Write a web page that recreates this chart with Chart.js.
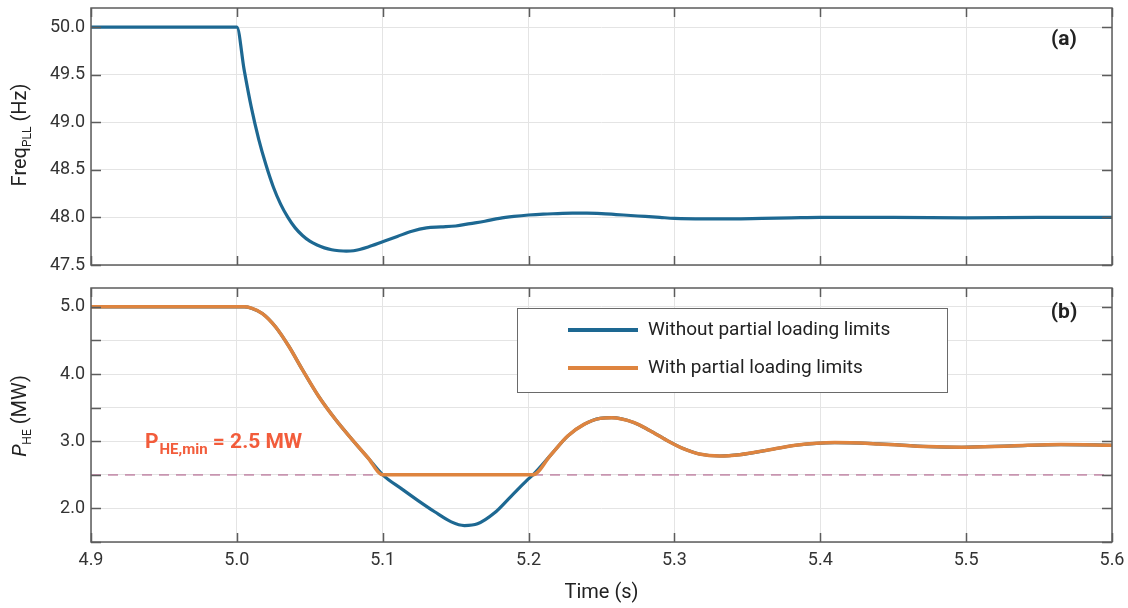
<!DOCTYPE html>
<html>
<head>
<meta charset="utf-8">
<script src="https://cdn.jsdelivr.net/npm/chart.js@4.4.0/dist/chart.umd.min.js"></script>
<style>
  html, body { margin: 0; padding: 0; background: #fff; }
  #wrap { position: relative; width: 1128px; height: 608px; }
  canvas { position: absolute; left: 0; }
  #freqChart { top: 0; }
  #powerChart { top: 275px; }
</style>
</head>
<body>
<div id="wrap">
  <canvas id="freqChart" width="1128" height="275"></canvas>
  <canvas id="powerChart" width="1128" height="333"></canvas>
</div>
<script>
// ─── Data ───────────────────────────────────────
const timeTicks = [4.9, 5.0, 5.1, 5.2, 5.3, 5.4, 5.5, 5.6];
const timeTickLabels = ["4.9", "5.0", "5.1", "5.2", "5.3", "5.4", "5.5", "5.6"];
const freqTicks = [47.5, 48.0, 48.5, 49.0, 49.5, 50.0];
const freqTickLabels = ["47.5", "48.0", "48.5", "49.0", "49.5", "50.0"];
const powerTicks = [1.5, 2.0, 2.5, 3.0, 3.5, 4.0, 4.5, 5.0];
const powerTickLabels = ["", "2.0", "", "3.0", "", "4.0", "", "5.0"];

const freqTime = [4.9, 5.0, 5.005, 5.01, 5.015, 5.02, 5.025, 5.03, 5.035, 5.04, 5.045, 5.05, 5.055, 5.06, 5.065, 5.07, 5.075, 5.08, 5.09, 5.1, 5.11, 5.12, 5.13, 5.14, 5.15, 5.16, 5.17, 5.18, 5.19, 5.2, 5.21, 5.22, 5.23, 5.24, 5.25, 5.26, 5.27, 5.28, 5.29, 5.3, 5.32, 5.34, 5.36, 5.38, 5.4, 5.45, 5.5, 5.55, 5.6];
const freqHz = [50.0, 50.0, 49.55, 49.15, 48.82, 48.55, 48.32, 48.14, 48.0, 47.89, 47.81, 47.75, 47.71, 47.68, 47.66, 47.65, 47.645, 47.65, 47.69, 47.745, 47.8, 47.855, 47.89, 47.9, 47.91, 47.935, 47.96, 47.99, 48.01, 48.025, 48.035, 48.04, 48.045, 48.045, 48.04, 48.03, 48.02, 48.01, 48.0, 47.99, 47.985, 47.985, 47.99, 47.995, 48.0, 48.0, 47.995, 48.0, 48.0];

const powerTime = [4.9, 5.005, 5.01, 5.0175, 5.0266, 5.0357, 5.0448, 5.056, 5.0674, 5.0788, 5.09, 5.1, 5.113, 5.124, 5.1356, 5.147, 5.156, 5.165, 5.1765, 5.188, 5.199, 5.203, 5.215, 5.227, 5.238, 5.249, 5.257, 5.272, 5.283, 5.295, 5.306, 5.317, 5.331, 5.345, 5.362, 5.383, 5.41, 5.44, 5.474, 5.497, 5.531, 5.565, 5.6];
const powerNoLimit = [5.0, 5.0, 4.98, 4.9, 4.7, 4.41, 4.07, 3.67, 3.33, 3.03, 2.75, 2.5, 2.29, 2.12, 1.95, 1.8, 1.745, 1.77, 1.93, 2.18, 2.42, 2.5, 2.79, 3.08, 3.25, 3.34, 3.35, 3.28, 3.16, 3.01, 2.89, 2.81, 2.78, 2.8, 2.86, 2.94, 2.98, 2.96, 2.92, 2.91, 2.93, 2.95, 2.94];
const powerWithLimit = [5.0, 5.0, 4.98, 4.9, 4.7, 4.41, 4.07, 3.67, 3.33, 3.03, 2.75, 2.5, 2.5, 2.5, 2.5, 2.5, 2.5, 2.5, 2.5, 2.5, 2.5, 2.5, 2.79, 3.08, 3.25, 3.34, 3.35, 3.28, 3.16, 3.01, 2.89, 2.81, 2.78, 2.8, 2.86, 2.94, 2.98, 2.96, 2.92, 2.91, 2.93, 2.95, 2.94];

const pMinTime = [4.9, 5.6];
const pMinValue = [2.5, 2.5];

// ─── Styles ─────────────────────────────────────
const BLUE = "#1d6892";
const ORANGE = "#de843f";
const FONT = "Roboto, 'Noto Sans', sans-serif";
const pts = (xs, ys) => xs.map((x, i) => ({ x, y: ys[i] }));

// box + inward ticks
const framePlugin = {
	id: "frame",
	afterDatasetsDraw(chart) {
		const { ctx, chartArea: a, scales } = chart;
		ctx.save();
		ctx.strokeStyle = "#5c5c5c";
		ctx.lineWidth = 1.5;
		ctx.beginPath();
		scales.x.ticks.forEach((t) => {
			const px = Math.round(scales.x.getPixelForValue(t.value)) + 0.5;
			ctx.moveTo(px, a.bottom); ctx.lineTo(px, a.bottom - 9);
			ctx.moveTo(px, a.top); ctx.lineTo(px, a.top + 9);
		});
		scales.y.ticks.forEach((t) => {
			const py = Math.round(scales.y.getPixelForValue(t.value)) + 0.5;
			ctx.moveTo(a.left, py); ctx.lineTo(a.left + 10, py);
			ctx.moveTo(a.right, py); ctx.lineTo(a.right - 10, py);
		});
		ctx.stroke();
		ctx.strokeRect(a.left, a.top, a.right - a.left, a.bottom - a.top);
		ctx.restore();
	},
};

function drawRotatedTitle(ctx, cx, cy, parts) {
	ctx.save();
	ctx.translate(cx, cy);
	ctx.rotate(-Math.PI / 2);
	ctx.fillStyle = "#222";
	ctx.textBaseline = "alphabetic";
	let total = 0;
	parts.forEach((p) => { ctx.font = p.font; p.w = ctx.measureText(p.text).width; total += p.w; });
	let x = -total / 2;
	parts.forEach((p) => { ctx.font = p.font; ctx.fillText(p.text, x, p.dy); x += p.w; });
	ctx.restore();
}

const xScale = (showLabels) => ({
	type: "linear",
	min: 4.9,
	max: 5.6,
	afterBuildTicks: (s) => { s.ticks = timeTicks.map((v) => ({ value: v })); },
	ticks: {
		display: showLabels,
		callback: (v, i) => timeTickLabels[i],
		color: "#333",
		font: { family: FONT, size: 18 },
		padding: 8,
		maxRotation: 0,
	},
	grid: { color: "#e4e4e4", lineWidth: 1, drawTicks: false },
	border: { display: false },
	title: showLabels
		? { display: true, text: "Time (s)", color: "#222", font: { family: FONT, size: 20 }, padding: { top: 0, bottom: 3 } }
		: { display: false },
	afterFit: (s) => {
		s.height = showLabels ? 66 : 0;
		s.paddingLeft = 0;
		s.paddingRight = 0;
	},
});

const yScale = (min, max, ticks, labels) => ({
	min,
	max,
	afterBuildTicks: (s) => { s.ticks = ticks.map((v) => ({ value: v })); },
	ticks: {
		callback: (v, i) => labels[i],
		color: "#333",
		font: { family: FONT, size: 18 },
		padding: 6,
	},
	grid: { color: "#e4e4e4", lineWidth: 1, drawTicks: false },
	border: { display: false },
	afterFit: (s) => {
		s.width = 86;
		s.paddingTop = 0;
		s.paddingBottom = 0;
	},
});

const lineDs = (label, data, color, width, order) => ({
	label,
	data,
	borderColor: color,
	backgroundColor: color,
	borderWidth: width,
	pointRadius: 0,
	cubicInterpolationMode: "monotone",
	order,
});

const baseOptions = (padTop, padBottom) => ({
	responsive: false,
	animation: false,
	devicePixelRatio: 1,
	layout: { padding: { left: 5, right: 16, top: padTop, bottom: padBottom } },
	plugins: { legend: { display: false }, tooltip: { enabled: false } },
});

// ─── (a) Frequency ──────────────────────────────
const freqLabels = {
	id: "freqLabels",
	afterDraw(chart) {
		const { ctx } = chart;
		drawRotatedTitle(ctx, 19, 135, [
			{ text: "Freq", font: `20px ${FONT}`, dy: 7 },
			{ text: "PLL", font: `12px ${FONT}`, dy: 12 },
			{ text: " (Hz)", font: `20px ${FONT}`, dy: 7 },
		]);
		ctx.save();
		ctx.fillStyle = "#222";
		ctx.font = `bold 21px ${FONT}`;
		ctx.textAlign = "center";
		ctx.textBaseline = "middle";
		ctx.fillText("(a)", 1064, 40);
		ctx.restore();
	},
};

new Chart(document.getElementById("freqChart"), {
	type: "line",
	data: {
		datasets: [lineDs("Without partial loading limits", pts(freqTime, freqHz), BLUE, 3.2, 0)],
	},
	options: {
		...baseOptions(8, 10),
		scales: {
			x: xScale(false),
			y: yScale(47.5, 50.2, freqTicks, freqTickLabels),
		},
	},
	plugins: [framePlugin, freqLabels],
});

// ─── (b) Power ──────────────────────────────────
const powerLabels = {
	id: "powerLabels",
	afterDraw(chart) {
		const { ctx, scales } = chart;
		drawRotatedTitle(ctx, 19, 141, [
			{ text: "P", font: `italic 20px ${FONT}`, dy: 7 },
			{ text: "HE", font: `12px ${FONT}`, dy: 12 },
			{ text: " (MW)", font: `20px ${FONT}`, dy: 7 },
		]);
		ctx.save();
		// (b)
		ctx.fillStyle = "#222";
		ctx.font = `bold 21px ${FONT}`;
		ctx.textAlign = "center";
		ctx.textBaseline = "middle";
		ctx.fillText("(b)", 1064, 38);

		// P_HE,min annotation
		const ax = scales.x.getPixelForValue(4.937);
		const ay = scales.y.getPixelForValue(2.9);
		ctx.fillStyle = "#f25c3b";
		ctx.textAlign = "left";
		ctx.textBaseline = "alphabetic";
		let x = ax;
		ctx.font = `bold 21px ${FONT}`;
		ctx.fillText("P", x, ay);
		x += ctx.measureText("P").width + 1;
		ctx.font = `bold 15px ${FONT}`;
		ctx.fillText("HE,min", x, ay + 6);
		x += ctx.measureText("HE,min").width;
		ctx.font = `bold 21px ${FONT}`;
		ctx.fillText(" = 2.5 MW", x, ay);

		// legend box
		const lx = 517, ly = 33, lw = 430, lh = 84;
		ctx.fillStyle = "#fff";
		ctx.fillRect(lx, ly, lw, lh);
		ctx.strokeStyle = "#6a6a6a";
		ctx.lineWidth = 1;
		ctx.strokeRect(lx + 0.5, ly + 0.5, lw, lh);
		const items = [chart.data.datasets[1], chart.data.datasets[0]];
		items.forEach((ds, i) => {
			const y = ly + 22 + i * 38;
			ctx.strokeStyle = ds.borderColor;
			ctx.lineWidth = 4;
			ctx.beginPath();
			ctx.moveTo(568, y);
			ctx.lineTo(638, y);
			ctx.stroke();
			ctx.fillStyle = "#222";
			ctx.font = `19px ${FONT}`;
			ctx.textBaseline = "middle";
			ctx.fillText(ds.label, 648, y);
		});
		ctx.restore();
	},
};

new Chart(document.getElementById("powerChart"), {
	type: "line",
	data: {
		datasets: [
			lineDs("With partial loading limits", pts(powerTime, powerWithLimit), ORANGE, 3.5, 0),
			lineDs("Without partial loading limits", pts(powerTime, powerNoLimit), BLUE, 3.2, 1),
			{
				label: "P_HE,min",
				data: pts(pMinTime, pMinValue),
				borderColor: "#c795b0",
				borderWidth: 1.8,
				borderDash: [10, 7],
				pointRadius: 0,
				order: 2,
			},
		],
	},
	options: {
		...baseOptions(13, 0),
		scales: {
			x: xScale(true),
			y: yScale(1.5, 5.28, powerTicks, powerTickLabels),
		},
	},
	plugins: [framePlugin, powerLabels],
});
</script>
</body>
</html>
